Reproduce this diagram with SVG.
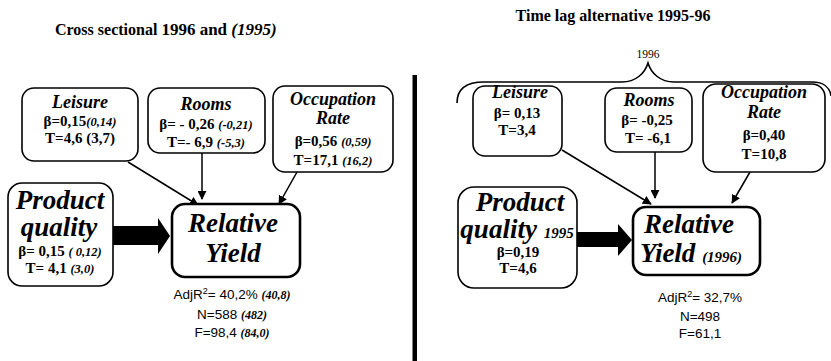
<svg xmlns="http://www.w3.org/2000/svg" width="831" height="361" viewBox="0 0 831 361">
  <defs>
    <marker id="arrow" viewBox="0 0 10 10" refX="9" refY="5" markerWidth="9" markerHeight="9" markerUnits="userSpaceOnUse" orient="auto">
      <path d="M0,0 L10,5 L0,10 Z" fill="#000"/>
    </marker>
  </defs>
  <style>
    .box { fill: #fff; stroke: #000; stroke-width: 1.6; }
    .dep { fill: #fff; stroke: #000; stroke-width: 2.6; }
    .title { font-family: "Liberation Serif", serif; font-weight: bold; font-size: 16px; fill: #000; }
    .lbl { font-family: "Liberation Serif", serif; font-weight: bold; font-style: italic; font-size: 18px; text-anchor: middle; fill: #000; }
    .big { font-family: "Liberation Serif", serif; font-weight: bold; font-style: italic; font-size: 27px; text-anchor: middle; fill: #000; }
    .val { font-family: "Liberation Serif", serif; font-weight: bold; font-size: 15px; text-anchor: middle; fill: #000; }
    .it { font-style: italic; font-size: 12.5px; }
    .stat { font-family: "Liberation Sans", sans-serif; font-size: 13.5px; text-anchor: middle; fill: #000; }
    .sit { font-family: "Liberation Serif", serif; font-style: italic; font-weight: bold; font-size: 12px; }
    .link { fill: none; stroke: #000; stroke-width: 1.5; marker-end: url(#arrow); }
    .thick { fill: #000; stroke: none; }
  </style>

  <!-- section headings -->
  <text class="title" x="55" y="35">Cross sectional <tspan font-size="17">1996 and </tspan><tspan font-size="17" font-style="italic">(1995)</tspan></text>
  <text class="title" x="613" y="21" text-anchor="middle" font-size="17">Time lag alternative 1995-96</text>

  <!-- divider between the two models -->
  <rect x="412.5" y="75" width="4.5" height="286" fill="#000"/>

  <!-- brace grouping the 1996 predictors -->
  <g id="brace-1996">
    <path d="M457,103 C457,89 466,82 484,82 L622,82 C636,82 645,73 648,63 C651,73 660,82 674,82 L812,82 C824,82 830,88 831,96" fill="none" stroke="#000" stroke-width="1.6"/>
    <text x="648" y="58" font-family="Liberation Serif, serif" font-size="11.5" text-anchor="middle">1996</text>
  </g>

  <!-- connectors -->
  <g id="connectors">
    <line class="link" x1="128" y1="162" x2="198" y2="205"/>
    <line class="link" x1="202" y1="153" x2="202" y2="199"/>
    <line class="link" x1="297" y1="172" x2="279" y2="204"/>
    <polygon class="thick" points="113,226 158,226 158,218 170,236 158,254 158,245 113,245"/>

    <line class="link" x1="562" y1="150" x2="651" y2="204"/>
    <line class="link" x1="655" y1="152" x2="655" y2="198"/>
    <line class="link" x1="750" y1="172" x2="732" y2="203"/>
    <polygon class="thick" points="577,232 618,232 618,224 632,240 618,256 618,247 577,247"/>
  </g>

  <!-- cross sectional model -->
  <g id="cs-leisure">
    <rect class="box" x="22" y="88" width="116" height="73" rx="12"/>
    <text class="lbl" x="80" y="108">Leisure</text>
    <text class="val" x="80" y="126">β=0,15<tspan class="it">(0,14)</tspan></text>
    <text class="val" x="80" y="143">T=4,6 (3,7)</text>
  </g>
  <g id="cs-rooms">
    <rect class="box" x="148" y="88" width="117" height="65" rx="12"/>
    <text class="lbl" x="206" y="110">Rooms</text>
    <text class="val" x="206" y="129">β=  - 0,26 <tspan class="it">(-0,21)</tspan></text>
    <text class="val" x="206" y="147">T=- 6,9 <tspan class="it">(-5,3)</tspan></text>
  </g>
  <g id="cs-occupation">
    <rect class="box" x="273" y="86" width="120" height="86" rx="12"/>
    <text class="lbl" x="333" y="105">Occupation</text>
    <text class="lbl" x="333" y="124">Rate</text>
    <text class="val" x="333" y="146">β=0,56 <tspan class="it">(0,59)</tspan></text>
    <text class="val" x="333" y="165">T=17,1 <tspan class="it">(16,2)</tspan></text>
  </g>
  <g id="cs-product">
    <rect class="box" x="8" y="183" width="105" height="103" rx="14"/>
    <text class="big" x="60" y="209">Product</text>
    <text class="big" x="59" y="236">quality</text>
    <text class="val" x="60" y="256">β= 0,15 <tspan class="it">( 0,12)</tspan></text>
    <text class="val" x="60" y="273">T= 4,1 <tspan class="it">(3,0)</tspan></text>
  </g>
  <g id="cs-yield">
    <rect class="dep" x="172" y="204" width="128" height="73" rx="13"/>
    <text class="big" x="233" y="232" font-size="26">Relative</text>
    <text class="big" x="233" y="262" font-size="26">Yield</text>
  </g>
  <g id="cs-stats">
    <text class="stat" x="232" y="299">AdjR<tspan font-size="9" dy="-5">2</tspan><tspan dy="5">= 40,2% </tspan><tspan class="sit">(40,8)</tspan></text>
    <text class="stat" x="232" y="319">N=588 <tspan class="sit">(482)</tspan></text>
    <text class="stat" x="232" y="337">F=98,4 <tspan class="sit">(84,0)</tspan></text>
  </g>

  <!-- time lag model -->
  <g id="tl-leisure">
    <rect class="box" x="473" y="86" width="89" height="70" rx="12"/>
    <text class="lbl" x="520" y="98">Leisure</text>
    <text class="val" x="517" y="118">β= 0,13</text>
    <text class="val" x="517" y="135">T=3,4</text>
  </g>
  <g id="tl-rooms">
    <rect class="box" x="605" y="88" width="87" height="64" rx="12"/>
    <text class="lbl" x="649" y="106">Rooms</text>
    <text class="val" x="647" y="125">β= -0,25</text>
    <text class="val" x="648" y="143">T= -6,1</text>
  </g>
  <g id="tl-occupation">
    <rect class="box" x="703" y="84" width="122" height="88" rx="13"/>
    <text class="lbl" x="764" y="98">Occupation</text>
    <text class="lbl" x="764" y="118">Rate</text>
    <text class="val" x="764" y="140">β=0,40</text>
    <text class="val" x="764" y="159">T=10,8</text>
  </g>
  <g id="tl-product">
    <rect class="box" x="458" y="187" width="119" height="101" rx="16"/>
    <text class="big" x="520" y="211">Product</text>
    <text class="big" x="517" y="238">quality <tspan font-size="15">1995</tspan></text>
    <text class="val" x="518" y="257">β=0,19</text>
    <text class="val" x="518" y="273">T=4,6</text>
  </g>
  <g id="tl-yield">
    <rect class="dep" x="633" y="207" width="127" height="68" rx="13"/>
    <text class="big" x="689" y="233" font-size="26">Relative</text>
    <text class="big" x="691" y="262" font-size="26">Yield <tspan font-size="15">(1996)</tspan></text>
  </g>
  <g id="tl-stats">
    <text class="stat" x="700" y="302">AdjR<tspan font-size="9" dy="-5">2</tspan><tspan dy="5">= 32,7%</tspan></text>
    <text class="stat" x="700" y="321">N=498</text>
    <text class="stat" x="700" y="338">F=61,1</text>
  </g>
</svg>
